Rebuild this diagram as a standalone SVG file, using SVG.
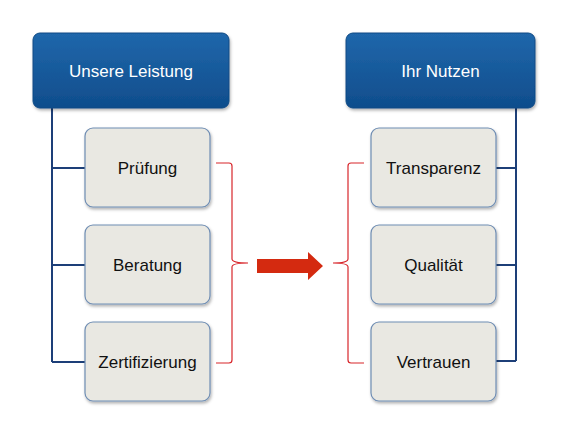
<svg xmlns="http://www.w3.org/2000/svg" width="580" height="438" viewBox="0 0 580 438">
<defs>
<linearGradient id="hg" x1="0" y1="0" x2="0" y2="1">
<stop offset="0" stop-color="#2067ab"/>
<stop offset="1" stop-color="#0f4d8c"/>
</linearGradient>
<filter id="sh" x="-10%" y="-10%" width="130%" height="130%">
<feDropShadow dx="1" dy="2" stdDeviation="1.5" flood-color="#000" flood-opacity="0.3"/>
</filter>
</defs>
<style>
.hd{fill:url(#hg);stroke:#104a85;stroke-width:1;filter:url(#sh)}
.ch{fill:#e9e8e2;stroke:#6f8db3;stroke-width:1.2;filter:url(#sh)}
.ht{font-family:"Liberation Sans",Arial,sans-serif;font-size:17px;fill:#fff;text-anchor:middle}
.ct{font-family:"Liberation Sans",Arial,sans-serif;font-size:17px;fill:#111;text-anchor:middle}
.ln{fill:none;stroke:#1d3f78;stroke-width:2}
.br{fill:none;stroke:#d8262b;stroke-width:1.2}
</style>
<rect width="580" height="438" fill="#fff"/>
<g id="connectors">
<path class="ln" d="M52 108 V362 M52 168 H85 M52 265 H85 M52 362 H85"/>
<path class="ln" d="M516 108 V361 M496 168 H516 M496 265 H516 M496 361 H516"/>
<path class="br" d="M216 163 H229 Q232 163 232 166 V259 Q232 263 248 263 Q232 263 232 267 V360 Q232 363 229 363 H216"/>
<path class="br" d="M364 163 H351 Q348 163 348 166 V259 Q348 263 333 263 Q348 263 348 267 V360 Q348 363 351 363 H364"/>
<polygon points="257,259 308,259 308,252 323,266 308,280 308,273 257,273" fill="#d42a10"/>
</g>
<g id="n-unsere"><rect class="hd" x="33" y="33" width="196" height="75" rx="7"/><text class="ht" x="131" y="77">Unsere Leistung</text></g>
<g id="n-nutzen"><rect class="hd" x="346" y="33" width="189" height="75" rx="7"/><text class="ht" x="440.5" y="77">Ihr Nutzen</text></g>
<g id="n-pruefung"><rect class="ch" x="85" y="128" width="125" height="79" rx="8"/><text class="ct" x="147.5" y="174">Prüfung</text></g>
<g id="n-beratung"><rect class="ch" x="85" y="225" width="125" height="79" rx="8"/><text class="ct" x="147.5" y="271">Beratung</text></g>
<g id="n-zert"><rect class="ch" x="85" y="322" width="125" height="79" rx="8"/><text class="ct" x="147.5" y="368">Zertifizierung</text></g>
<g id="n-transparenz"><rect class="ch" x="371" y="128" width="125" height="79" rx="8"/><text class="ct" x="433.5" y="174">Transparenz</text></g>
<g id="n-qualitaet"><rect class="ch" x="371" y="225" width="125" height="79" rx="8"/><text class="ct" x="433.5" y="271">Qualität</text></g>
<g id="n-vertrauen"><rect class="ch" x="371" y="322" width="125" height="79" rx="8"/><text class="ct" x="433.5" y="368">Vertrauen</text></g>
</svg>
